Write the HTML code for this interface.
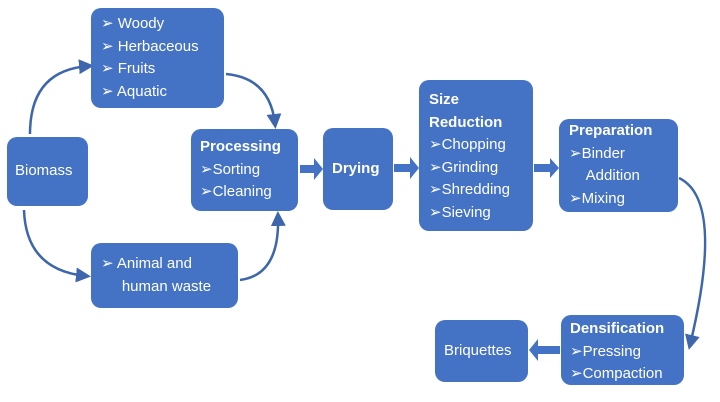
<!DOCTYPE html>
<html><head><style>
body{margin:0;width:720px;height:402px;background:#fff;position:relative;overflow:hidden;font-family:"Liberation Sans",sans-serif;}
.b{position:absolute;background:#4472c4;border-radius:10px;color:#fff;font-size:15px;line-height:22.5px;box-sizing:border-box;}
b{font-weight:bold;}
</style></head><body>
<svg width="720" height="402" style="position:absolute;left:0;top:0">
<defs><marker id="a" markerWidth="6" markerHeight="6" refX="4" refY="3" orient="auto"><path d="M0,0L6,3L0,6z" fill="#3d66ad"/></marker></defs>
<g fill="none" stroke="#3d66ad" stroke-width="2.5">
<path d="M30,134 Q30,70 89,66" marker-end="url(#a)"/>
<path d="M226,74 Q270,78 275,124" marker-end="url(#a)"/>
<path d="M24,210 Q26,270 86,276" marker-end="url(#a)"/>
<path d="M240,280 Q280,275 278,216" marker-end="url(#a)"/>
<path d="M679,178 Q725,200 690,345" marker-end="url(#a)"/>
</g>
<g fill="#4472c4">
<path d="M300,165h14v-7l9,11l-9,11v-7h-14z"/>
<path d="M394,164h16v-7l9,11l-9,11v-7h-16z"/>
<path d="M534,164h16v-6l9,10l-9,10v-6h-16z"/>
<path d="M560,346h-22v-7l-9,11l9,11v-7h22z"/>
</g>
</svg>
<div class="b" style="left:91px;top:8px;width:133px;height:100px;padding:5px 0 0 10px">➢ Woody<br>➢ Herbaceous<br>➢ Fruits<br>➢ Aquatic</div>
<div class="b" style="left:7px;top:137px;width:81px;height:69px;padding:23px 0 0 8px">Biomass</div>
<div class="b" style="left:91px;top:243px;width:147px;height:65px;padding:10px 0 0 10px">➢ Animal and<br>&nbsp;&nbsp;&nbsp;&nbsp;&nbsp;human waste</div>
<div class="b" style="left:191px;top:129px;width:107px;height:82px;padding:7px 0 0 9px"><b>Processing</b><br>➢Sorting<br>➢Cleaning</div>
<div class="b" style="left:323px;top:128px;width:70px;height:82px;padding:30px 0 0 9px"><b>Drying</b></div>
<div class="b" style="left:419px;top:80px;width:114px;height:151px;padding:9px 0 0 10px"><b>Size<br>Reduction</b><br>➢Chopping<br>➢Grinding<br>➢Shredding<br>➢Sieving</div>
<div class="b" style="left:559px;top:119px;width:119px;height:93px;padding:1px 0 0 10px"><b>Preparation</b><br>➢Binder<br>&nbsp;&nbsp;&nbsp;&nbsp;Addition<br>➢Mixing</div>
<div class="b" style="left:561px;top:315px;width:123px;height:70px;padding:3px 0 0 9px"><b>Densification</b><br>➢Pressing<br>➢Compaction</div>
<div class="b" style="left:435px;top:320px;width:93px;height:62px;padding:20px 0 0 9px">Briquettes</div>
</body></html>
